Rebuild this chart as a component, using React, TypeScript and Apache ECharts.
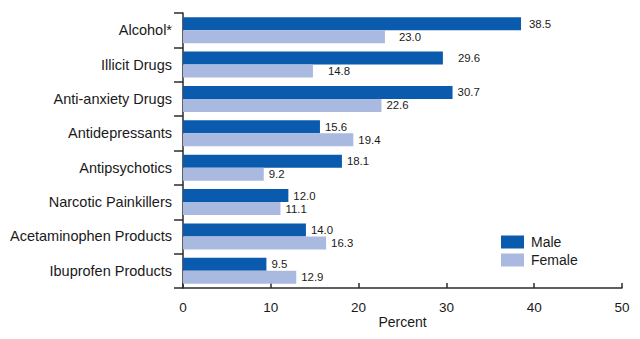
import React, { useEffect, useRef } from "react";
import * as echarts from "echarts";

const categories = [
  "Alcohol*",
  "Illicit Drugs",
  "Anti-anxiety Drugs",
  "Antidepressants",
  "Antipsychotics",
  "Narcotic Painkillers",
  "Acetaminophen Products",
  "Ibuprofen Products",
];
const maleValues = [38.5, 29.6, 30.7, 15.6, 18.1, 12.0, 14.0, 9.5];
const femaleValues = [23.0, 14.8, 22.6, 19.4, 9.2, 11.1, 16.3, 12.9];
const seriesNames = ["Male", "Female"];
const xTicks = [0, 10, 20, 30, 40, 50];

const FONT = "'Liberation Sans', Arial, Helvetica, sans-serif";
const MALE_COLOR = "#0A5BAD";
const FEMALE_COLOR = "#AAB9E0";
const AXIS_COLOR = "#2b2b2b";

// small label nudges (pixels) matching the reference's hand-placed labels
const maleNudge: Record<number, number> = { 0: 3, 1: 10 };
const femaleNudge: Record<number, number> = { 0: 9, 1: 10 };

export default function App() {
  const ref = useRef<HTMLDivElement>(null);

  useEffect(() => {
    if (!ref.current) return;
    const chart = echarts.init(ref.current, undefined, { renderer: "svg" });

    const mkData = (vals: number[], nudge: Record<number, number>) =>
      vals.map((v, i) =>
        nudge[i] ? { value: v, label: { offset: [nudge[i], 0] } } : { value: v }
      );

    const labelCfg = {
      show: true,
      position: "right" as const,
      distance: 5,
      color: "#1a1a1a",
      fontSize: 11.4,
      fontFamily: FONT,
      formatter: (p: any) => Number(p.value).toFixed(1),
    };

    chart.setOption({
      animation: false,
      backgroundColor: "#ffffff",
      textStyle: { fontFamily: FONT },
      grid: { left: 183, right: 18, top: 13, bottom: 51, containLabel: false },
      legend: {
        data: seriesNames,
        orient: "vertical",
        left: 501,
        top: 235,
        padding: 0,
        itemWidth: 23,
        itemHeight: 13,
        itemGap: 4,
        icon: "rect",
        textStyle: { fontSize: 14, color: "#1a1a1a", fontFamily: FONT, padding: [0, 0, 0, 2] },
      },
      xAxis: {
        type: "value",
        min: xTicks[0],
        max: xTicks[xTicks.length - 1],
        interval: 10,
        name: "Percent",
        nameLocation: "middle",
        nameGap: 27,
        nameMoveOverlap: false,
        nameTextStyle: { fontSize: 14, color: "#1a1a1a", fontFamily: FONT },
        axisLine: { show: true, lineStyle: { color: AXIS_COLOR, width: 1.5 } },
        axisTick: { show: true, inside: true, length: 5, lineStyle: { color: AXIS_COLOR, width: 1.5 } },
        axisLabel: { fontSize: 13.5, color: "#1a1a1a", margin: 12, fontFamily: FONT },
        splitLine: { show: false },
      },
      yAxis: {
        type: "category",
        data: categories,
        inverse: true,
        axisLine: { show: true, lineStyle: { color: AXIS_COLOR, width: 1.5 } },
        axisTick: { show: true, length: 9, lineStyle: { color: AXIS_COLOR, width: 1.5 } },
        axisLabel: { fontSize: 14.5, color: "#1a1a1a", margin: 11, fontFamily: FONT },
        splitLine: { show: false },
      },
      series: [
        {
          name: seriesNames[0],
          type: "bar",
          data: mkData(maleValues, maleNudge),
          barWidth: 13,
          barGap: "0%",
          itemStyle: { color: MALE_COLOR },
          label: labelCfg,
        },
        {
          name: seriesNames[1],
          type: "bar",
          data: mkData(femaleValues, femaleNudge),
          barWidth: 13,
          barGap: "0%",
          itemStyle: { color: FEMALE_COLOR },
          label: labelCfg,
        },
      ],
    });

    return () => chart.dispose();
  }, []);

  return <div ref={ref} style={{ width: 640, height: 339, position: "absolute", left: 0, top: 0 }} />;
}
